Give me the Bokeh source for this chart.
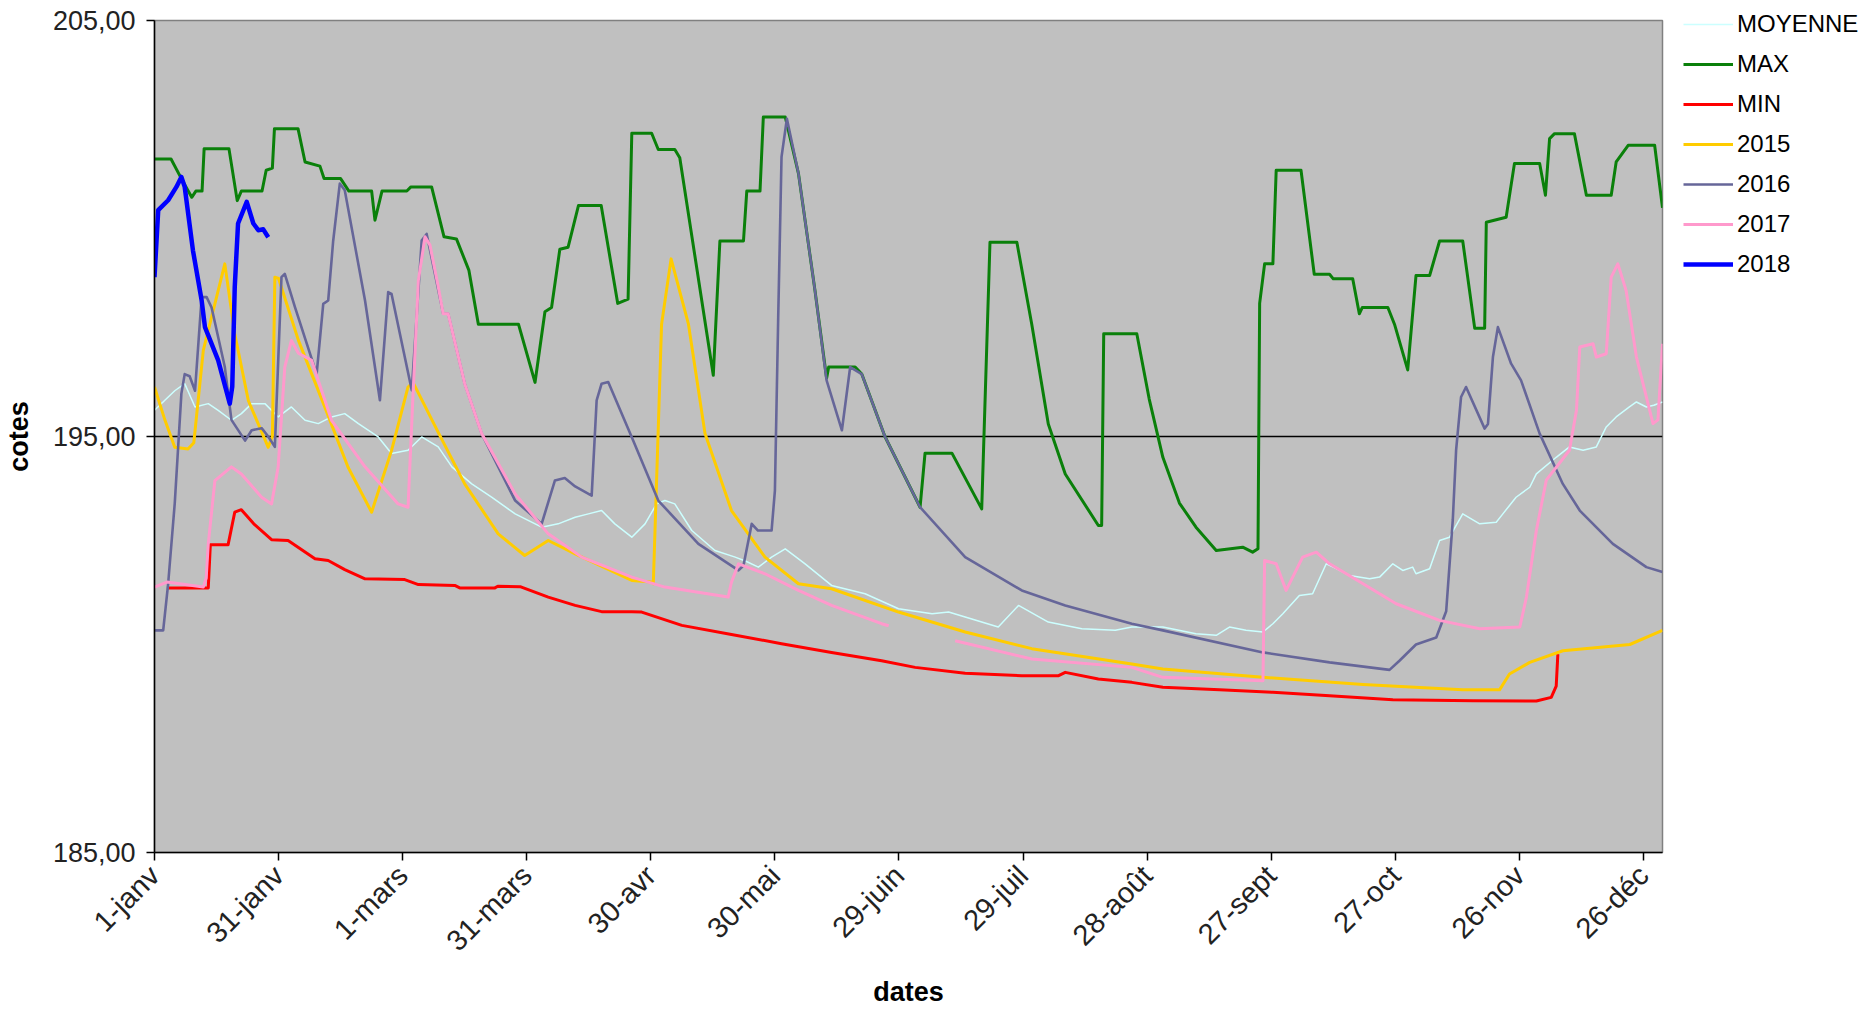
import math
from bokeh.plotting import figure
from bokeh.models import Range1d, FixedTicker, Legend, LegendItem
from bokeh.embed import file_html
from bokeh.resources import INLINE

# ---------------- data ----------------
tick_days = [0, 30, 60, 90, 120, 150, 180, 210, 240, 270, 300, 330, 360]
tick_labels = ["1-janv", "31-janv", "1-mars", "31-mars", "30-avr", "30-mai", "29-juin",
               "29-juil", "28-août", "27-sept", "27-oct", "26-nov", "26-déc"]
y_ticks = [185, 195, 205]
y_tick_labels = ["185,00", "195,00", "205,00"]

moy_days = [0, 2.5, 4.9, 7.3, 9.8, 13, 15.4, 18.6, 21, 23.5, 26.7, 29.9, 33.1, 36.4, 39.6, 42.8, 46,
            49.3, 54.1, 57.3, 61.3, 64.6, 68.6, 71.9, 76.7, 81.5, 87.2, 93.6, 97.6, 101.7, 104.9,
            108.1, 111.3, 115.4, 118.6, 121.4, 123.4, 125.8, 129.9, 135.5, 140.4, 143, 146, 149.2,
            152.5, 157.3, 163.7, 171.8, 179.9, 188, 192, 196, 204, 208.9, 216.1, 224.2, 232.3,
            236.3, 243.8, 251.8, 256.7, 259.9, 263.9, 268, 270.4, 272.8, 276.8, 280, 283.3, 285,
            288.9, 293.8, 296.2, 299.4, 301.8, 304.2, 305, 308.3, 310.7, 313.1, 316.3, 320.4,
            324.4, 326, 329.2, 332.5, 334.1, 338.9, 342.1, 345.4, 348.6, 351, 353.4, 356.6, 358.3,
            360.7, 362.5, 364.6]
moy_vals = [195.63, 195.87, 196.1, 196.27, 195.71, 195.79, 195.63, 195.39, 195.55, 195.79, 195.79,
            195.47, 195.71, 195.39, 195.31, 195.47, 195.55, 195.31, 194.99, 194.59, 194.67, 194.99,
            194.75, 194.27, 193.86, 193.54, 193.14, 192.82, 192.9, 193.06, 193.14, 193.22, 192.9,
            192.58, 192.9, 193.38, 193.46, 193.38, 192.74, 192.26, 192.1, 192.0, 191.86, 192.1,
            192.3, 191.94, 191.42, 191.22, 190.86, 190.74, 190.78, 190.66, 190.42, 190.94, 190.54,
            190.38, 190.34, 190.42, 190.42, 190.26, 190.22, 190.42, 190.34, 190.3, 190.5, 190.74,
            191.18, 191.22, 191.94, 191.86, 191.66, 191.58, 191.62, 191.94, 191.78, 191.86, 191.7,
            191.82, 192.5, 192.58, 193.14, 192.9, 192.94, 193.14, 193.54, 193.78, 194.1, 194.5,
            194.75, 194.67, 194.75, 195.23, 195.47, 195.71, 195.83, 195.71, 195.75, 195.83]

max_days = [0, 4, 6.5, 9, 10, 11.5, 12, 18, 20, 21, 26, 27, 28.5, 29, 34.7, 36.4, 40, 41, 45, 47,
            52.5, 53.3, 55, 61, 62, 67, 70, 73, 76, 78.3, 88, 92, 94.4, 96, 98, 100, 102.5, 108,
            112, 114.5, 115.4, 120.2, 121.8, 125.8, 127, 135.1, 136.7, 142.4, 143.2, 146.4, 147.2,
            152.5, 155.7, 159.7, 162.5, 163, 169.4, 171, 176.6, 185.1, 186.3, 192.8, 200, 202,
            208.5, 212.1, 216.1, 220.2, 228.2, 229, 229.5, 237.5, 240.5, 243.8, 247.8, 251.8, 256.7,
            263.1, 265.5, 266.8, 267.2, 268.4, 270.4, 271.2, 277.2, 280.4, 284.1, 285, 289.7, 291.3,
            292, 298.2, 299.8, 303, 305, 308.3, 310.7, 316.3, 319.2, 321.6, 322, 326.8, 328.8,
            334.9, 336.3, 337.3, 338.5, 343.3, 346.2, 352.2, 353.4, 356.3, 362.7, 364.6]
max_vals = [201.67, 201.67, 201.2, 200.75, 200.9, 200.9, 201.92, 201.92, 200.67, 200.9, 200.9,
            201.4, 201.45, 202.4, 202.4, 201.6, 201.5, 201.2, 201.2, 200.9, 200.9, 200.2, 200.9,
            200.9, 201.0, 201.0, 199.8, 199.75, 199.0, 197.7, 197.7, 196.3, 198.0, 198.1, 199.5,
            199.55, 200.55, 200.55, 198.2, 198.3, 202.29, 202.29, 201.9, 201.9, 201.7, 196.47,
            199.7, 199.7, 200.9, 200.9, 202.68, 202.68, 201.32, 198.5, 196.4, 196.67, 196.67,
            196.5, 195.0, 193.3, 194.6, 194.6, 193.26, 199.67, 199.67, 197.7, 195.3, 194.1, 192.86,
            192.86, 197.47, 197.47, 195.9, 194.5, 193.4, 192.82, 192.26, 192.34, 192.22, 192.3,
            198.2, 199.15, 199.15, 201.4, 201.4, 198.9, 198.9, 198.79, 198.79, 197.95, 198.1, 198.1,
            197.7, 196.6, 198.87, 198.87, 199.7, 199.7, 197.6, 197.6, 200.15, 200.27, 201.56,
            201.56, 200.8, 202.16, 202.28, 202.28, 200.8, 200.8, 201.6, 202.0, 202.0, 200.5]

min_days = [3, 13, 13.5, 17.8, 19.4, 21, 24, 28.3, 32.3, 38.8, 42, 46, 50.9, 60.5, 63.8, 72.6,
            73.8, 82.3, 83, 88.4, 95.2, 101.7, 108.1, 115.4, 117.8, 127.5, 139.5, 151.6, 163.7,
            175.8, 183.9, 196, 209.7, 218.6, 220.2, 228.2, 236.3, 243.8, 257.5, 270.4, 284.1,
            299.4, 318.8, 334.1, 337.7, 338.9, 339.3]
min_vals = [191.36, 191.36, 192.4, 192.4, 193.18, 193.24, 192.9, 192.52, 192.5, 192.06, 192.02,
            191.8, 191.58, 191.56, 191.44, 191.42, 191.36, 191.36, 191.4, 191.39, 191.14, 190.94,
            190.79, 190.79, 190.78, 190.46, 190.24, 190.02, 189.81, 189.61, 189.45, 189.31, 189.25,
            189.25, 189.33, 189.17, 189.09, 188.97, 188.91, 188.85, 188.77, 188.67, 188.65, 188.64,
            188.73, 189.0, 189.77]

y2015_days = [0, 2.5, 4.9, 8.1, 9.5, 11.8, 17, 19.4, 22.7, 27.5, 28.5, 29.1, 30, 34.8, 41.2, 46.8,
              52.5, 57.3, 61.3, 62.5, 68.6, 75, 83.1, 89.5, 95.2, 101.7, 115.4, 120.2, 120.6, 122.6,
              124.9, 129.1, 133.1, 139.5, 147.6, 155.7, 163.7, 179.9, 196, 212.1, 236.3, 243.8,
              268, 292.2, 316.3, 325.2, 327.6, 332.5, 340.5, 356.7, 364.6]
y2015_vals = [196.19, 195.4, 194.74, 194.7, 194.85, 197.07, 199.15, 197.47, 195.86, 194.74, 195.0,
              198.83, 198.8, 197.31, 195.7, 194.26, 193.18, 194.66, 196.19, 196.3, 195.1, 193.86,
              192.66, 192.14, 192.5, 192.18, 191.54, 191.5, 191.46, 197.7, 199.27, 197.7, 195.07,
              193.22, 192.1, 191.46, 191.34, 190.78, 190.3, 189.9, 189.53, 189.41, 189.21, 189.04,
              188.91, 188.91, 189.29, 189.57, 189.85, 190.0, 190.34]

y2016_days = [0, 2.1, 3.3, 4.9, 6.5, 7.3, 8.5, 9.8, 11.4, 12.6, 13.8, 17, 18.6, 21.9, 23.5, 25.9,
              27.5, 29.1, 30.7, 31.5, 34, 39.2, 40.8, 42, 43.2, 44.8, 46, 50.9, 54.5, 56.5, 57.3,
              62.2, 64.6, 65.8, 69.8, 71, 75, 79.1, 87.2, 93.6, 96.8, 99.2, 101.7, 105.7, 106.9,
              108.1, 109.7, 115.4, 121.8, 131.5, 141.2, 142.4, 144.4, 145.9, 149.2, 150, 150.8,
              151.6, 152.9, 155.7, 159.7, 162.5, 166.2, 168.2, 171, 176.6, 185.1, 196, 209.7, 220.2,
              236.3, 243.8, 268, 284.1, 298.6, 301, 305, 309.9, 312.3, 313.9, 314.7, 315.9, 317.1,
              321.6, 322.4, 323.6, 324.8, 328, 330.4, 334.9, 340.5, 344.6, 352.6, 360.7, 364.6]
y2016_vals = [190.34, 190.34, 191.46, 193.4, 196.03, 196.5, 196.45, 196.1, 198.35, 198.35, 198.1,
              196.67, 195.4, 194.9, 195.15, 195.2, 195.0, 194.75, 198.83, 198.91, 198.1, 196.5,
              198.19, 198.27, 199.7, 201.08, 200.92, 198.27, 195.87, 198.47, 198.43, 196.11, 199.71,
              199.87, 197.95, 197.95, 196.27, 195.07, 193.46, 192.9, 193.94, 194.0, 193.8, 193.58,
              195.87, 196.27, 196.31, 194.98, 193.46, 192.42, 191.78, 191.9, 192.9, 192.74, 192.74,
              193.7, 197.87, 201.72, 202.64, 201.32, 198.5, 196.35, 195.15, 196.67, 196.5, 195.0,
              193.3, 192.1, 191.3, 190.94, 190.5, 190.34, 189.81, 189.57, 189.39, 189.61, 190.0,
              190.17, 190.8, 193.0, 194.67, 195.95, 196.19, 195.19, 195.3, 196.91, 197.63, 196.75,
              196.35, 195.07, 193.86, 193.22, 192.42, 191.86, 191.74]

y2017_days = [0, 3, 11.8, 12.5, 13, 14.6, 18.6, 21, 25.9, 28.3, 29.9, 31.5, 33.1, 34.8, 38, 42.8,
              50.9, 58.9, 61.3, 62.5, 63.8, 65.4, 66.6, 68.6, 69.8, 71, 75, 79.1, 87.2, 95.2, 103.3,
              115.4, 123.4, 138.7, 139.5, 141.2, 147.6, 155.7, 163.7, 175.8, 177.5, 185, 193.6,
              212.1, 236.3, 243.8, 268, 268.4, 271.2, 273.6, 277.6, 280.9, 284.1, 292.2, 300.2,
              310.7, 320.4, 330.1, 331.7, 334.1, 336.5, 342.1, 343.8, 344.6, 347.8, 348.6, 351,
              352.2, 353.8, 355.8, 358.3, 362.3, 363.5, 364.6]
y2017_vals = [191.38, 191.5, 191.38, 191.6, 192.42, 193.94, 194.27, 194.1, 193.54, 193.38, 194.27,
              196.67, 197.31, 197.0, 196.83, 195.39, 194.27, 193.38, 193.3, 196.0, 198.75, 199.8,
              199.6, 198.6, 197.95, 197.95, 196.27, 195.07, 193.62, 192.66, 192.1, 191.62, 191.38,
              191.14, 191.5, 191.94, 191.7, 191.3, 190.94, 190.5, 190.45, float("nan"), 190.09,
              189.65, 189.45, 189.21, 189.13, 192.02, 191.94, 191.3, 192.1, 192.22, 191.94, 191.46,
              190.98, 190.58, 190.38, 190.42, 191.14, 192.74, 193.95, 194.67, 195.63, 197.15,
              197.23, 196.91, 196.99, 198.83, 199.15, 198.51, 196.91, 195.31, 195.4, 197.23]

y2018_days = [0, 0.9, 3.3, 5.3, 6.5, 7.3, 9.3, 11.4, 12.2, 15.4, 18.2, 18.8, 19.4, 20.2, 22.3,
              23.9, 25.1, 26.3, 27.5]
y2018_vals = [198.83, 200.44, 200.68, 201.0, 201.24, 201.0, 199.47, 198.27, 197.63, 196.83,
              195.79, 196.2, 198.59, 200.12, 200.64, 200.12, 199.96, 199.98, 199.79]

series_names = ["MOYENNE", "MAX", "MIN", "2015", "2016", "2017", "2018"]

# ---------------- figure ----------------
FONT = "Liberation Sans"

p = figure(frame_width=1508, frame_height=832,
           min_border_left=153, min_border_right=205, min_border_top=20, min_border_bottom=150,
           x_range=Range1d(0, 364.6), y_range=Range1d(185, 205),
           output_backend="svg", toolbar_location=None,
           background_fill_color="#C0C0C0", border_fill_color="white")
p.outline_line_color = "#808080"
p.outline_line_width = 1.5

p.xgrid.visible = False
p.ygrid.ticker = FixedTicker(ticks=[195])
p.ygrid.grid_line_color = "black"
p.ygrid.grid_line_width = 1.5

styles = [
    (moy_days, moy_vals, "#CCFFFF", 1.5),
    (max_days, max_vals, "#0A800A", 3),
    (min_days, min_vals, "#FF0000", 3),
    (y2015_days, y2015_vals, "#FFCC00", 3),
    (y2016_days, y2016_vals, "#666699", 2.6),
    (y2017_days, y2017_vals, "#FF99CC", 3),
    (y2018_days, y2018_vals, "#0000FF", 4.5),
]
renderers = []
for xs, ys, col, w in styles:
    r = p.line(xs, ys, line_color=col, line_width=w, line_join="round")
    renderers.append(r)

# axes
p.xaxis.ticker = FixedTicker(ticks=tick_days)
p.xaxis.major_label_overrides = {d: l for d, l in zip(tick_days, tick_labels)}
p.xaxis.major_label_orientation = math.pi / 4
p.yaxis.ticker = FixedTicker(ticks=y_ticks)
p.yaxis.major_label_overrides = {v: l for v, l in zip(y_ticks, y_tick_labels)}

for ax in (p.xaxis[0], p.yaxis[0]):
    ax.axis_line_color = "black"
    ax.axis_line_width = 1.5
    ax.major_tick_line_color = "black"
    ax.major_tick_line_width = 1.5
    ax.major_tick_in = 0
    ax.major_tick_out = 8
    ax.minor_tick_line_color = None
    ax.major_label_text_font = FONT
    ax.major_label_text_color = "#222222"
    ax.axis_label_text_font = FONT
    ax.axis_label_text_font_style = "bold"
    ax.axis_label_text_font_size = "27px"
    ax.axis_label_text_color = "black"

p.xaxis.major_label_text_font_size = "29px"
p.yaxis.major_label_text_font_size = "27px"
p.xaxis.major_label_standoff = 10
p.yaxis.major_label_standoff = 11
p.xaxis.axis_label = "dates"
p.yaxis.axis_label = "cotes"
p.xaxis.axis_label_standoff = 6
p.yaxis.axis_label_standoff = 16

# legend (outside, to the right of the plot area)
items = [LegendItem(label=n, renderers=[r]) for n, r in zip(series_names, renderers)]
legend = Legend(items=items, location=(21, 568), orientation="vertical",
                label_text_font=FONT, label_text_font_size="24px", label_text_color="black",
                glyph_width=50, glyph_height=40, label_height=40, label_standoff=4,
                spacing=0, padding=0, margin=0,
                background_fill_alpha=0, border_line_color=None)
p.add_layout(legend, "right")

open("out.html", "w").write(file_html(p, INLINE))
